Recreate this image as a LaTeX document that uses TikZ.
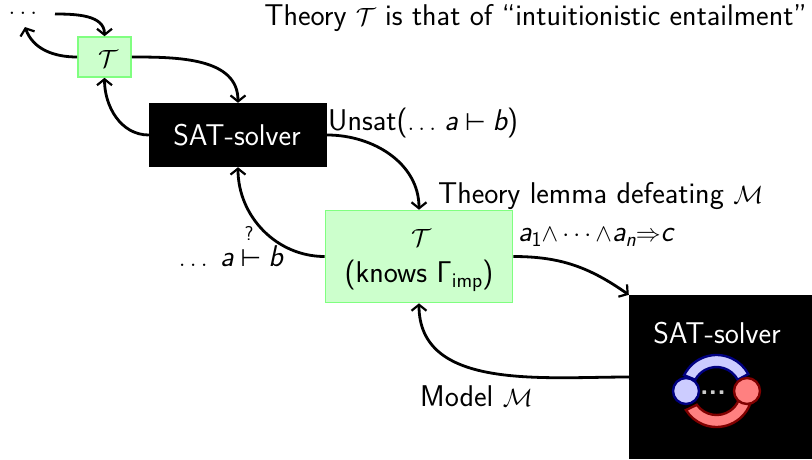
\documentclass[tikz,border=0pt]{standalone}
\usepackage{amsmath,amssymb}
\usepackage{fontspec}
\usetikzlibrary{arrows.meta,calc}
\setmainfont{Latin Modern Sans}
\newfontfamily\dvsans{DejaVu Sans}
\newcommand{\ital}[1]{\text{\itshape #1}}
\newcommand{\turn}{\mathrel{\text{\dvsans\fontsize{24}{24}\selectfont ⊢}}}
\newcommand{\subsf}[1]{\raisebox{-5pt}{\fontsize{21}{21}\selectfont #1}}
\definecolor{gfill}{RGB}{204,255,204}
\definecolor{gline}{RGB}{128,255,128}
\definecolor{bfill}{RGB}{204,204,255}
\definecolor{bline}{RGB}{0,0,128}
\definecolor{rfill}{RGB}{255,128,128}
\definecolor{rline}{RGB}{128,0,0}
\tikzset{
  x=1pt,y=-1pt,
  every node/.style={font=\fontsize{30}{36}\selectfont,inner sep=0pt,text=black},
  gbox/.style={draw=gline,fill=gfill,line width=1.6pt,align=center},
  bbox/.style={fill=black,text=white},
  conn/.style={line width=2.8pt,-{Straight Barb[length=6pt,width=15pt,line width=2.2pt]}},
  lbl/.style={anchor=base west},
  ctr/.style={anchor=base}
}
\begin{document}
\begin{tikzpicture}
\useasboundingbox (0,0) rectangle (812,459);
\node[gbox,minimum width=53pt,minimum height=40pt] (t1) at (104.5,57) {};
\node[ctr] (t1a) at (108,67) {$\mathcal{T}$};
\node[bbox,minimum width=178pt,minimum height=64pt] (s1) at (238,135) {};
\node[ctr,text=white] (s1a) at (237,145) {SAT-solver};
\node[gbox,minimum width=187pt,minimum height=92pt] (t2) at (419,256.5) {};
\node[ctr] (t2a) at (421,246) {$\mathcal{T}$};
\node[ctr] (t2b) at (419,282) {(knows Γ\subsf{imp})};
\node[bbox,minimum width=183pt,minimum height=164pt] (s2) at (720.5,377) {};
\node[ctr,text=white] (s2l) at (717,343) {SAT-solver};
\coordinate (logo) at (716.5,391);
\path[draw=bline,fill=bfill,line width=2.4pt] ($(logo)+(-154:36)$) arc[start angle=-154,end angle=-28,radius=36] -- ($(logo)+(-28:24)$)
  arc[start angle=-28,end angle=-152,radius=24] -- cycle;
\path[draw=rline,fill=rfill,line width=2.4pt] ($(logo)+(22:36)$) arc[start angle=22,end angle=148,radius=36] -- ($(logo)+(145:24)$)
  arc[start angle=145,end angle=25,radius=24] -- cycle;
\node[circle,draw=bline,fill=bfill,line width=2.4pt,minimum size=26pt] (c1) at (686,391) {};
\node[circle,draw=rline,fill=rfill,line width=2.4pt,minimum size=26pt] (c2) at (747,391) {};
\node[ctr,text=black!20,font=\bfseries\fontsize{28}{28}\selectfont] (dots) at (713,394) {...};
\node[ctr] (d0) at (23,14) {$\ldots$};
\coordinate (d0in) at (55,14);
\coordinate (d0out) at (25,27);
\draw[conn] (d0in) to[out=0,in=90] (t1.north);
\draw[conn] (t1.west) to[out=180,in=-70] (d0out);
\draw[conn] (t1.east) to[out=0,in=90] (s1.north);
\draw[conn] (s1.west) to[out=180,in=-90] (t1.south);
\draw[conn] (s1.east) to[out=0,in=90] (t2.north);
\draw[conn] (t2.west) to[out=180,in=-90] (s1.south);
\draw[conn] (t2.east) to[out=0,in=145] (s2.north west);
\draw[conn] (s2.west) to[out=180,in=-90] (t2.south);
\node[anchor=base east] (top) at (807,25) {Theory $\mathcal{T}$ is that of ``intuitionistic entailment''};
\node[lbl] (l1) at (328,130) {Unsat($\ldots\,\ital{a}\turn\ital{b}$)};
\node[lbl] (l2) at (438,203) {Theory lemma defeating $\mathcal{M}$};
\node[lbl] (l3) at (518,241) {\itshape a\subsf{\upshape 1}$\wedge\cdots\wedge$a\subsf{n}$\Rightarrow$c};
\node[anchor=base east] (l4) at (283,266) {$\ldots\,\,\ital{a}\turn\ital{b}$};
\node[ctr,font=\fontsize{20}{20}\selectfont] (l4q) at (249,240) {?};
\node[lbl] (l5) at (420,406) {Model $\mathcal{M}$};
\end{tikzpicture}
\end{document}
